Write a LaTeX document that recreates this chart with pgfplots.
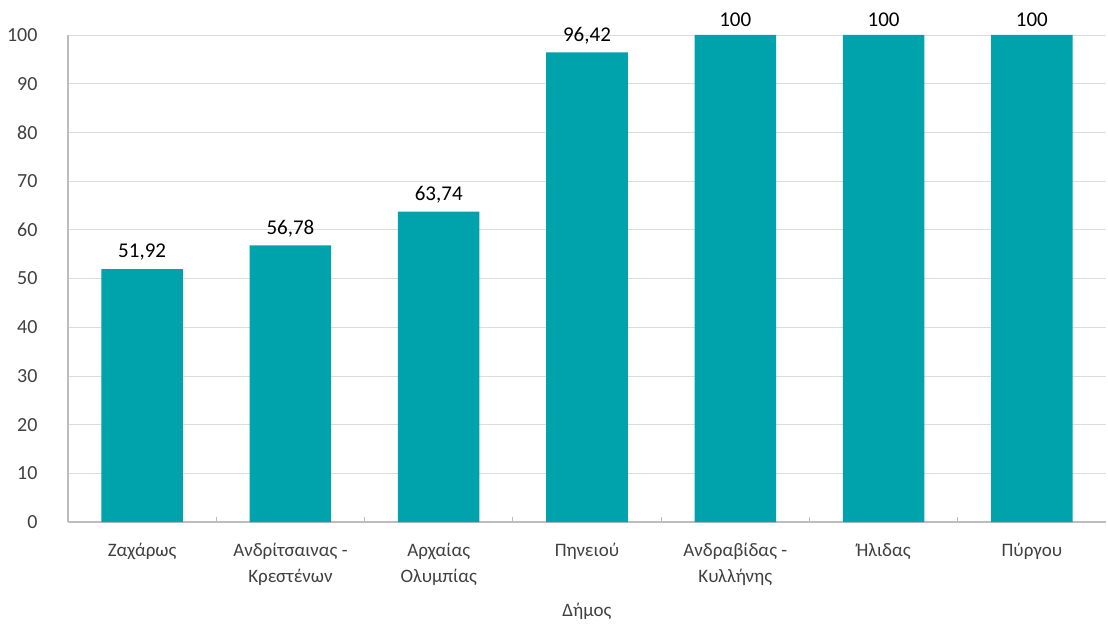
\documentclass[border=0pt]{standalone}
\usepackage{fontspec}
\setmainfont{Carlito}
\usepackage{pgfplots}
\pgfplotsset{compat=1.18}
\definecolor{barteal}{HTML}{00A2AC}
\definecolor{gridgray}{HTML}{DCDCDC}
\definecolor{axisgray}{HTML}{BDBDBD}
\definecolor{labelgray}{HTML}{404040}
\begin{document}
\begin{tikzpicture}
\begin{axis}[
  scale only axis,
  width=1038bp, height=487bp,
  ymin=0, ymax=100,
  xmin=-0.5, xmax=6.5,
  ytick={0,10,...,100},
  xtick={0,...,6},
  xticklabels={Ζαχάρως, {Ανδρίτσαινας -\\Κρεστένων}, {Αρχαίας\\Ολυμπίας}, Πηνειού, {Ανδραβίδας -\\Κυλλήνης}, Ήλιδας, Πύργου},
  xticklabel style={align=center, font=\fontsize{19bp}{26bp}\selectfont, text=labelgray, yshift=-18bp},
  yticklabel style={font=\fontsize{20bp}{24bp}\selectfont, text=labelgray, xshift=-27bp},
  /pgf/number format/assume math mode=true,
  ymajorgrids, grid style={gridgray, line width=0.8bp},
  axis x line*=bottom, axis y line*=left,
  axis line style={axisgray, line width=1.2bp},
  major tick length=0pt,
  extra x ticks={0.5,1.5,...,5.5},
  extra x tick labels={},
  extra x tick style={grid=none, major tick length=5bp, tick align=inside, tick style={axisgray, line width=1bp}},
  xlabel={Δήμος},
  xlabel style={font=\fontsize{19bp}{24bp}\selectfont, text=labelgray, yshift=-10bp},
  ybar, bar width=0.55,
  nodes near coords,
  nodes near coords style={font=\fontsize{21bp}{24bp}\selectfont, text=black, yshift=5bp, /pgf/number format/.cd, use comma, fixed, precision=2, assume math mode=true},
  clip=false,
]
\addplot[fill=barteal, draw=none] coordinates {
  (0,51.92) (1,56.78) (2,63.74) (3,96.42) (4,100) (5,100) (6,100)
};
\coordinate (bl) at (rel axis cs:0,0);
\coordinate (tr) at (rel axis cs:1,1);
\end{axis}
\pgfresetboundingbox
\path ([shift={(-68bp,-108bp)}]bl) rectangle ([shift={(2bp,35bp)}]tr);
\end{tikzpicture}
\end{document}
